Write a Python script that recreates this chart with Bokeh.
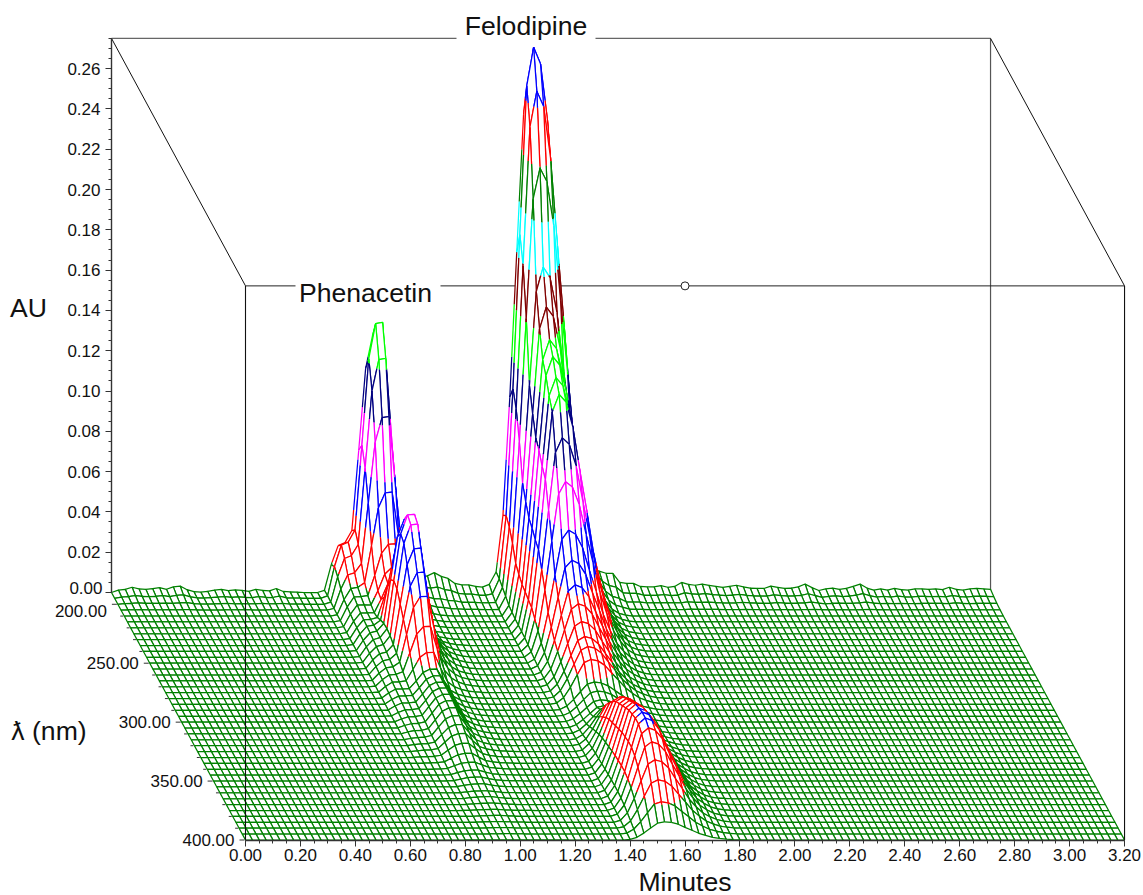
from bisect import bisect_right
from bokeh.core.properties import value
from bokeh.embed import file_html
from bokeh.models import ColumnDataSource, NumeralTickFormatter, Range1d, SingleIntervalTicker
from bokeh.plotting import figure
from bokeh.resources import INLINE

# ---- axes
TIME_MAX = 3.20
TIME_STEP = 0.025
WL_MIN, WL_MAX, WL_STEP = 190, 400, 5
AU_TOP = 0.275
wl_ticks = [200, 250, 300, 350, 400]
wl_minor_ticks = [w for w in range(200, 401, 10) if w not in wl_ticks]
wl_label_nudge = [7, 0, 0, 0, 0]

# ---- absorbance level at which the wire colour changes, and the colours
band_levels = [0.015, 0.041, 0.066, 0.092, 0.117, 0.143, 0.169, 0.194, 0.220, 0.247]
band_colors = ["#008000", "#ff0000", "#0000ff", "#ff00ff", "#000080", "#00ff00",
               "#800000", "#00ffff", "#008000", "#ff0000", "#0000ff"]

# ---- ridge height per wavelength row (190, 195 ... 400 nm)
felodipine_spectrum = [
    .2550, .2735, .2546, .2193, .1732, .1563, .1429, .1375, .1300, .1246, .1060,
    .0871, .0660, .0540, .0447, .0382, .0323, .0278, .0258, .0223, .0140, .0125,
    .0110, .0110, .0130, .0170, .0220, .0260, .0300, .0330, .0350, .0370, .0390,
    .0410, .0420, .0430, .0430, .0410, .0370, .0310, .0240, .0160, .0090]
phenacetin_spectrum = [
    .1280, .1370, .1220, .0960, .0615, .0387, .0300, .0280, .0360, .0520, .0660,
    .0710, .0690, .0600, .0510, .0420, .0300, .0200, .0146, .0142, .0140, .0140,
    .0138, .0136, .0130, .0120, .0105, .0090, .0070, .0050, .0035, .0025, .0020,
    .0015, .0010, .0010, .0008, .0006, .0005, .0004, .0003, .0002, .0001]
shoulder_spectrum = [
    .0220, .0250, .0215, .0165, .0130, .0120, .0110, .0100, .0095, .0090, .0085,
    .0080, .0075, .0070, .0065, .0060, .0055, .0050, .0045, .0040, .0035, .0030,
    .0025, .0020, .0015, .0010, .0008, .0006, .0004, .0002, .0000, .0000, .0000,
    .0000, .0000, .0000, .0000, .0000, .0000, .0000, .0000, .0000, .0000]

# ---- relative peak shape per time column (first column given by *_start)
felodipine_start = 55
felodipine_profile = [0, .03, .15, .38, .66, .93, 1, .97, .87, .70, .54, .37, .25, .15,
                      .09, .045, .02, .008, .003]
phenacetin_start = 31
phenacetin_profile = [0, .005, .01, .03, .12, .50, .85, .995, 1, .62, .28, .15, .08, .04,
                      .02, .008, .003]
shoulder_start = 30
shoulder_profile = [0, .05, .60, 1, .95, .70, .30, .10]

# ---- baseline ripple along the rear rows, one value per time column
ripple_left = [0, .0012, .0016, .0026, .0018, .0016, .0019, .0024, .0016, .0028, .0032,
               .0014, .0004, .0002, .0006, .0012, .0016, .0009, .0013, .001, .0006,
               .0016, .001, .0008, .002, .0005, .0003, .0002, 0, 0, 0, 0]
ripple_phenacetin_zone = [0] * 13
ripple_middle = [.005, .0072, .0095, .008, .007, .0045, .0038, .0038, .003, .0027, .004, .0025]
ripple_felodipine_zone = [0] * 14
ripple_right = [.0055, .0075, .0087, .005, .0045, .0045, .003, .0028, .0028, .0034, .0026,
                .003, .005, .004, .0036, .0042, .0035, .003, .0025, .003, .0036, .0028,
                .0022, .002, .002, .0032, .0025, .002, .0022, .0028, .0042, .0024, .001,
                .0018, .0022, .0016, .002, .003, .0042, .0022, .0012, .0018, .0012, .002,
                .0014, .0012, .0018, .0018, .0016, .0018, .0014, .0026, .0016, .0012,
                .0018, .002, .0018, .0016]
back_ripple = ripple_left + ripple_phenacetin_zone + ripple_middle + ripple_felodipine_zone + ripple_right
ripple_row_weight = [1, .55, .25, .1]

# ---- page geometry of the oblique view
W, H = 1143, 895
PAGE_T0, PAGE_FLOOR_BACK = 245.0, 592.0
PX_PER_MIN, PX_PER_AU = 274.7, 2015.0
DEPTH_PX_X, DEPTH_PX_Y = 134.0, 247.5
MESH_WIDTH = 1.25
skew_x = DEPTH_PX_X / (WL_MAX - WL_MIN) / PX_PER_MIN
skew_y = DEPTH_PX_Y / (WL_MAX - WL_MIN) / PX_PER_AU


def proj(t, wl, au):
    return t + (wl - WL_MAX) * skew_x, au - (wl - WL_MIN) * skew_y


def page_x(px):
    return (px - PAGE_T0) / PX_PER_MIN


def page_y(py):
    return (PAGE_FLOOR_BACK - py) / PX_PER_AU


wavelengths = list(range(WL_MIN, WL_MAX + 1, WL_STEP))
times = [i * TIME_STEP for i in range(len(back_ripple))]


def profile_at(profile, start, col):
    k = col - start
    return profile[k] if 0 <= k < len(profile) else 0.0


def height(row, col):
    z = felodipine_spectrum[row] * profile_at(felodipine_profile, felodipine_start, col)
    z += phenacetin_spectrum[row] * profile_at(phenacetin_profile, phenacetin_start, col)
    z += shoulder_spectrum[row] * profile_at(shoulder_profile, shoulder_start, col)
    if row < len(ripple_row_weight):
        z += back_ripple[col] * ripple_row_weight[row]
    return z


Z = [[height(r, c) for c in range(len(times))] for r in range(len(wavelengths))]


def band(z):
    return bisect_right(band_levels, z)


# Hidden-line painting: rear rows first, right-hand columns first. Each item of the
# one patches glyph is painted in order; a cell crossing a colour level is painted as
# a white cell, then its edges piece by piece, cut where the height crosses a level.
qx, qy, qc, qfa, qla = [], [], [], [], []


def add_item(xs, ys, color, fill_alpha, line_alpha):
    qx.append(xs)
    qy.append(ys)
    qc.append(color)
    qfa.append(fill_alpha)
    qla.append(line_alpha)


for r in range(len(wavelengths) - 1):
    for c in range(len(times) - 2, -1, -1):
        corners = [(c, r), (c + 1, r), (c + 1, r + 1), (c, r + 1)]
        hs = [Z[j][i] for i, j in corners]
        pts = [proj(times[i], wavelengths[j], Z[j][i]) for i, j in corners]
        xs, ys = [q[0] for q in pts], [q[1] for q in pts]
        bands = {band(z) for z in hs}
        if len(bands) == 1:
            add_item(xs, ys, band_colors[bands.pop()], 1, 1)
            continue
        add_item(xs, ys, "#ffffff", 1, 0)
        for k in range(4):
            m = (k + 1) % 4
            za, zb = hs[k], hs[m]
            cuts = [0.0]
            if za != zb:
                lo, hi = min(za, zb), max(za, zb)
                cross = sorted((lv - za) / (zb - za) for lv in band_levels if lo < lv < hi)
                cuts += cross
            cuts.append(1.0)
            for f0, f1 in zip(cuts[:-1], cuts[1:]):
                zmid = za + (zb - za) * (f0 + f1) / 2
                add_item([xs[k] + (xs[m] - xs[k]) * f0, xs[k] + (xs[m] - xs[k]) * f1],
                         [ys[k] + (ys[m] - ys[k]) * f0, ys[k] + (ys[m] - ys[k]) * f1],
                         band_colors[band(zmid)], 0, 1)

p = figure(width=W, height=H, output_backend="svg", toolbar_location=None,
           x_range=Range1d(page_x(0), page_x(W)),
           y_range=Range1d(page_y(H), page_y(0)),
           min_border=0, outline_line_color=None,
           x_axis_location="below", y_axis_location="left")
p.grid.visible = False

FONT = "Liberation Sans"
TICK_COLOR = "#333333"
TICK_SIZE = "17px"
TITLE_SIZE = "26.6px"

# rear walls, behind the surface
x0b, yb = proj(0, WL_MIN, AU_TOP)
x1b, _ = proj(TIME_MAX, WL_MIN, AU_TOP)
x1f, yf = proj(TIME_MAX, WL_MAX, AU_TOP)
x0f, _ = proj(0, WL_MAX, AU_TOP)
_, y_floor_f = proj(0, WL_MAX, 0)
_, y_floor_b = proj(0, WL_MIN, 0)
p.line([x1b, x1b], [y_floor_b, yb], line_color="#555555", line_width=1.2)
p.multi_line([[x0b, page_x(456)], [page_x(595), x1b]], [[yb, yb], [yb, yb]],
             line_color="#666666", line_width=1.4)
p.multi_line([[x0b, x0f], [x1b, x1f]], [[yb, yf], [yb, yf]], line_color="#111111", line_width=1)
p.multi_line([[x0f, page_x(295)], [page_x(440), x1f]], [[yf, yf], [yf, yf]],
             line_color="#222222", line_width=1)

p.patches(source=ColumnDataSource(dict(xs=qx, ys=qy, c=qc, fa=qfa, la=qla)), xs="xs", ys="ys",
          fill_color="white", fill_alpha="fa", line_color="c", line_alpha="la",
          line_width=MESH_WIDTH)

# front frame uprights, over the surface
p.multi_line([[x0f, x0f], [x1f, x1f]], [[y_floor_f, yf], [y_floor_f, yf]],
             line_color="#111111", line_width=1.1)
p.scatter([1.6], [yf], size=8, marker="circle", fill_color="white", line_color="#222222", line_width=1)

# real axes, placed by fixed_location
xa = p.xaxis[0]
xa.fixed_location = y_floor_f
xa.bounds = (0, TIME_MAX)
xa.ticker = SingleIntervalTicker(interval=0.2, num_minor_ticks=4)
xa.formatter = NumeralTickFormatter(format="0.00")
xa.axis_label = "Minutes"
xa.axis_label_text_font = FONT
xa.axis_label_text_font_size = TITLE_SIZE
xa.axis_label_text_font_style = "normal"
xa.axis_label_text_color = "#111111"
xa.axis_label_standoff = 2

ya = p.yaxis[0]
ya.fixed_location = page_x(111)
ya.bounds = (0, AU_TOP)
ya.ticker = SingleIntervalTicker(interval=0.02, num_minor_ticks=4)
ya.formatter = NumeralTickFormatter(format="0.00")
ya.major_label_overrides = {0: ""}
for ax in (xa, ya):
    ax.major_label_text_font = FONT
    ax.major_label_text_font_size = TICK_SIZE
    ax.major_label_text_color = "#111111"
    ax.axis_line_color = TICK_COLOR
    ax.axis_line_width = 1.4
    ax.major_tick_line_color = TICK_COLOR
    ax.minor_tick_line_color = TICK_COLOR
    ax.major_tick_in, ax.minor_tick_in = 0, 0
    ax.major_tick_out, ax.minor_tick_out = 6, 3
ya.major_label_standoff = 5
xa.major_label_standoff = 3

# wavelength axis: a slanted edge, so ticks are drawn through the same projection
tk = [proj(0, w, 0) for w in wl_ticks]
mk = [proj(0, w, 0) for w in wl_minor_ticks]
p.segment([q[0] - 6 / PX_PER_MIN for q in tk], [q[1] for q in tk],
          [q[0] - 1 / PX_PER_MIN for q in tk], [q[1] for q in tk], line_color=TICK_COLOR, line_width=1)
p.segment([q[0] - 4 / PX_PER_MIN for q in mk], [q[1] for q in mk],
          [q[0] - 1 / PX_PER_MIN for q in mk], [q[1] for q in mk], line_color=TICK_COLOR, line_width=1)
p.text([q[0] - 11 / PX_PER_MIN for q in tk], [q[1] for q in tk],
       text=[f"{w:.2f}" for w in wl_ticks], y_offset=wl_label_nudge,
       text_font=value(FONT), text_font_size=value(TICK_SIZE), text_color="#111111",
       text_align="right", text_baseline="middle")
p.text([page_x(102)], [page_y(587)], text=["0.00"], text_font=value(FONT),
       text_font_size=value(TICK_SIZE), text_color="#111111", text_align="right", text_baseline="middle")

# titles
titles = ["Felodipine", "Phenacetin", "AU", "\u019b (nm)"]
title_x = [525.5, 365, 28, 48.5]
title_y = [25, 292, 307, 730]
p.text([page_x(v) for v in title_x], [page_y(v) for v in title_y], text=titles,
       text_font=value(FONT), text_font_size=value(TITLE_SIZE), text_color="#111111",
       text_align="center", text_baseline="middle")

open("out.html", "w").write(file_html(p, INLINE))
